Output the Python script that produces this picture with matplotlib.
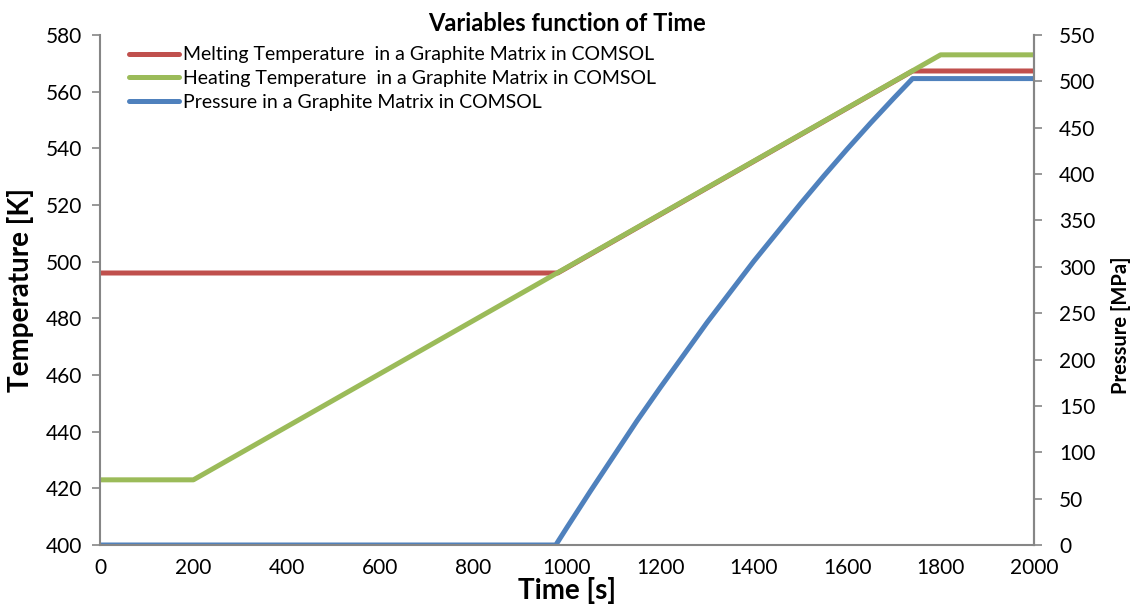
import matplotlib.pyplot as plt

# Data
melt_t = [0, 980, 1740, 2000]
melt_temp = [496, 496, 567.3, 567.3]

heat_t = [0, 200, 1800, 2000]
heat_temp = [423, 423, 573, 573]

press_t = [0, 976, 1000, 1050, 1100, 1150, 1200, 1250, 1300, 1350, 1400,
           1450, 1500, 1550, 1600, 1650, 1700, 1740, 2000]
press = [0, 0, 19, 58, 96, 134, 170, 205, 240, 273, 306,
         337, 368, 398, 427, 455, 482, 503, 503]

RED = "#C0504D"
GREEN = "#9BBB59"
BLUE = "#4F81BD"
GRAY = "#868686"

plt.rcParams["font.family"] = ["Lato", "DejaVu Sans"]

fig = plt.figure(figsize=(11.38, 6.06), dpi=100)
ax = fig.add_axes([100 / 1138, 1 - 545 / 606, 934 / 1138, 510 / 606])
ax2 = ax.twinx()

l1, = ax.plot(melt_t, melt_temp, color=RED, lw=3.6, solid_capstyle="round",
              label="Melting Temperature  in a Graphite Matrix in COMSOL")
l2, = ax.plot(heat_t, heat_temp, color=GREEN, lw=3.6, solid_capstyle="round",
              label="Heating Temperature  in a Graphite Matrix in COMSOL")
l3, = ax2.plot(press_t, press, color=BLUE, lw=3.6, solid_capstyle="round",
               label="Pressure in a Graphite Matrix in COMSOL")

ax.set_xlim(0, 2000)
ax.set_ylim(400, 580)
ax2.set_ylim(0, 550)
ax.set_xticks(range(0, 2001, 200))
ax.set_yticks(range(400, 581, 20))
ax2.set_yticks(range(0, 551, 50))

for a in (ax, ax2):
    a.spines["top"].set_visible(False)
    for s in ("left", "right", "bottom"):
        a.spines[s].set_color(GRAY)
        a.spines[s].set_linewidth(1.5)
    a.tick_params(labelsize=15, color=GRAY, width=1.2, length=6, pad=7)
ax.tick_params(axis="x", length=0, pad=9)
ax2.tick_params(axis="y", pad=12)
ax2.spines["left"].set_visible(False)
ax2.spines["bottom"].set_visible(False)

ax.set_title("Variables function of Time", fontsize=17, fontweight="bold", pad=2)
ax.set_xlabel("Time [s]", fontsize=20, fontweight="bold", labelpad=0)
ax.set_ylabel("Temperature [K]", fontsize=20, fontweight="bold")
ax.yaxis.set_label_coords(-0.071, 0.5)
ax2.set_ylabel("Pressure [MPa]", fontsize=14.5, fontweight="bold")
ax2.yaxis.set_label_coords(1.082, 0.43)

leg = ax.legend(handles=[l1, l2, l3], loc="upper left", frameon=False, fontsize=14,
                handlelength=2.6, handletextpad=0.2, labelspacing=0.35,
                bbox_to_anchor=(0.012, 1.012))
ax2.set_zorder(1)
ax.set_zorder(2)
ax.patch.set_visible(False)

fig.savefig("out.png", dpi=100)
